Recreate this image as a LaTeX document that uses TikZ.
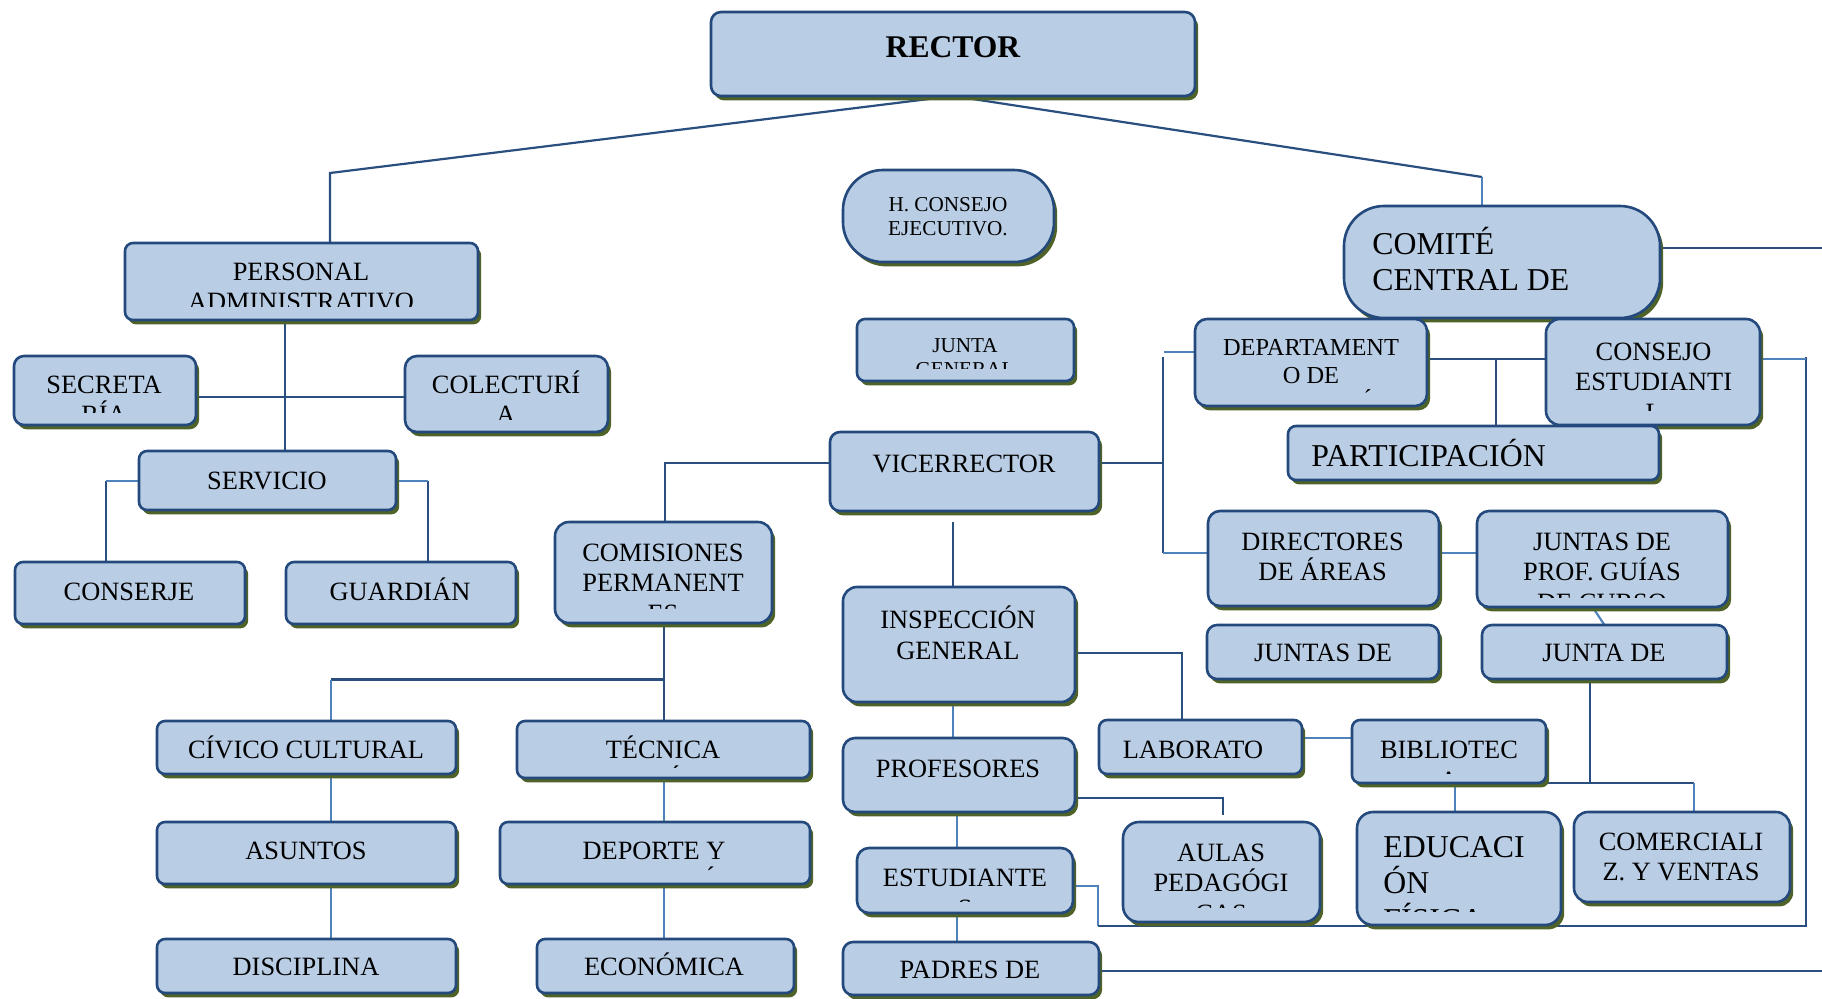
\documentclass[tikz,border=0pt]{standalone}
\usepackage{fontspec}
\setmainfont{Liberation Serif}
\usetikzlibrary{fit,shadows}
\definecolor{boxfill}{HTML}{B9CDE5}
\definecolor{bdr}{HTML}{24497C}
\definecolor{shad}{HTML}{4F6228}
\definecolor{lnk}{HTML}{2A4F7F}
\definecolor{lnl}{HTML}{4F81BD}
\pgfdeclarelayer{bg}
\pgfsetlayers{bg,main}
\newcommand\nrm{\fontsize{13.2}{15.3}\selectfont}
\newcommand\sml{\fontsize{10.6}{12.2}\selectfont}
\newcommand\mdm{\fontsize{12.2}{13.8}\selectfont}
\newcommand\bgg{\fontsize{15.9}{18.4}\selectfont}
% base anchor of a multi-line node = baseline of its last line
\newcommand\ctext[6][]{\begin{scope}\clip (0,0) rectangle (1822,#5);\node[txt,anchor=base,#1] (#2) at (#3,#4) {#6};\end{scope}}
\tikzset{
  box/.style={draw=bdr, line width=1.3pt, fill=boxfill, rounded corners=#1, inner sep=0pt, outer sep=0pt,
    drop shadow={shadow xshift=1.6pt, shadow yshift=-2.2pt, fill=shad, opacity=1}},
  box/.default=4pt,
  txt/.style={inner sep=0pt, align=center, text=black, font=\nrm},
  dk/.style={draw=lnk, line width=1.1pt},
  lt/.style={draw=lnl, line width=1.1pt},
}
\begin{document}
\begin{tikzpicture}[x=0.5pt,y=-0.5pt]
\useasboundingbox (0,0) rectangle (1822,998);
% ---------- coordinates for connectors ----------
\coordinate (cL) at (330,173);
\coordinate (cR) at (1482,177);
\coordinate (pv) at (285,0);
\coordinate (hy) at (0,397);
\coordinate (s1) at (106,481);
\coordinate (s2) at (428,481);
\coordinate (v1) at (665,463);
\coordinate (v2) at (664,679.5);
\coordinate (v3) at (331,679.5);
\coordinate (ix) at (953,0);
\coordinate (i1) at (1182,653);
\coordinate (p1) at (1223,797.7);
\coordinate (px) at (957,0);
\coordinate (e1) at (1098,886);
\coordinate (e2) at (1098,926);
\coordinate (e3) at (1806,926);
\coordinate (e4) at (1806,357);
\coordinate (e5) at (1806,359);
\coordinate (pr) at (1822,971);
\coordinate (cr) at (1822,248);
\coordinate (d1) at (1496,359);
\coordinate (l1) at (1164,352);
\coordinate (l2) at (1163,357);
\coordinate (l3) at (1163,553);
\coordinate (l4) at (1163,463);
\coordinate (j1) at (1590,783);
\coordinate (j2) at (1694,783);
\coordinate (bx) at (1455,0);
\coordinate (lb) at (0,738);

% ---------- boxes ----------
\node[box=5pt, fit={(711,12) (1195,96)}] (rector) {};
\node[box=20pt, fit={(843,170) (1054,262)}] (hce) {};
\node[box, fit={(857,319) (1074,381)}] (jg) {};
\node[box=5pt, fit={(830,432) (1099,511)}] (vice) {};
\node[box, fit={(125,243) (478,320)}] (pers) {};
\node[box=5pt, fit={(14,356) (196,425)}] (sec) {};
\node[box=6pt, fit={(405,356) (608,432)}] (col) {};
\node[box, fit={(139,451) (396,510)}] (serv) {};
\node[box, fit={(15,562) (245,624)}] (cons) {};
\node[box, fit={(286,562) (516,624)}] (guar) {};
\node[box=7pt, fit={(555,522) (772,623)}] (comi) {};
\node[box, fit={(157,721) (456,774)}] (civ) {};
\node[box, fit={(157,822) (456,884)}] (asu) {};
\node[box, fit={(157,939) (456,993)}] (dis) {};
\node[box, fit={(517,721) (810,778)}] (tec) {};
\node[box, fit={(500,822) (810,884)}] (dep) {};
\node[box, fit={(537,939) (794,993)}] (eco) {};
\node[box=7pt, fit={(843,587) (1075,702)}] (insp) {};
\node[box=6pt, fit={(843,738) (1075,812)}] (prof) {};
\node[box=6pt, fit={(857,848) (1073,913)}] (est) {};
\node[box=5pt, fit={(843,942) (1099,995)}] (pad) {};
\node[box, fit={(1099,720) (1302,774)}] (lab) {};
\node[box, fit={(1352,720) (1546,783)}] (bib) {};
\node[box=8pt, fit={(1123,822) (1320,922)}] (aul) {};
\node[box=8pt, fit={(1357,812) (1561,925)}] (edu) {};
\node[box=7pt, fit={(1574,812) (1790,902)}] (com) {};
\node[box=20pt, fit={(1344,206) (1660,318)}] (comite) {};
\node[box=6pt, fit={(1195,319) (1427,406)}] (dpto) {};
\node[box=7pt, fit={(1546,319) (1760,425)}] (cest) {};
\node[box, fit={(1288,426) (1659,480)}] (part) {};
\node[box=6pt, fit={(1208,511) (1439,606)}] (dir) {};
\node[box=6pt, fit={(1477,511) (1728,607)}] (jpg) {};
\node[box=5pt, fit={(1207,625) (1439,679)}] (jar) {};
\node[box=5pt, fit={(1482,625) (1727,679)}] (jcu) {};

% ---------- connectors (behind boxes) ----------
\begin{pgfonlayer}{bg}
\draw[dk] (rector.south) -- (cL) -- (cL |- pers.north);
\draw[dk] (rector.south) -- (cR);
\draw[lt] (cR) -- (cR |- comite.north);
\draw[dk] (pv |- pers.south) -- (pv |- serv.north);
\draw[dk] (sec.east |- hy) -- (col.west |- hy);
\draw[dk] (s1) -- (s1 |- cons.north);
\draw[lt] (serv.west |- s1) -- (s1);
\draw[dk] (s2) -- (s2 |- guar.north);
\draw[lt] (serv.east |- s2) -- (s2);
\draw[dk] (vice.west |- v1) -- (v1) -- (v1 |- comi.north);
\draw[dk] (v2 |- comi.south) -- (v2) -- (v2 |- tec.north);
\draw[dk] (v2) -- (v3);
\draw[lt] (v3) -- (v3 |- civ.north);
\draw[lt] (v3 |- civ.south) -- (v3 |- asu.north);
\draw[lt] (v3 |- asu.south) -- (v3 |- dis.north);
\draw[lt] (v2 |- tec.south) -- (v2 |- dep.north);
\draw[lt] (v2 |- dep.south) -- (v2 |- eco.north);
\draw[dk, shorten <=5.5pt] (ix |- vice.south) -- (ix |- insp.north);
\draw[lt] (ix |- insp.south) -- (ix |- prof.north);
\draw[dk] (insp.east |- i1) -- (i1) -- (i1 |- lab.north);
\draw[dk, shorten >=3.5pt] (prof.east |- p1) -- (p1) -- (p1 |- aul.north);
\draw[lt] (px |- prof.south) -- (px |- est.north);
\draw[lt] (px |- est.south) -- (px |- pad.north);
\draw[lt] (est.east |- e1) -- (e1) -- (e2);
\draw[dk] (e2) -- (e3) -- (e4);
\draw[lt] (e5) -- (cest.east |- e5);
\draw[dk] (pad.east |- pr) -- (pr);
\draw[dk] (comite.east |- cr) -- (cr);
\draw[dk] (dpto.east |- d1) -- (cest.west |- d1);
\draw[dk] (d1) -- (d1 |- part.north);
\draw[lt] (dpto.west |- l1) -- (l1);
\draw[dk] (l2) -- (l3);
\draw[dk] (vice.east |- l4) -- (l4);
\draw[lt] (l3) -- (dir.west |- l3);
\draw[lt] (dir.east |- l3) -- (jpg.west |- l3);
\draw[lt] ([xshift=-5pt]jpg.south) -- (jcu.north);
\draw[dk] (j1 |- jcu.south) -- (j1);
\draw[dk] (bib.south east) -- (j2);
\draw[lt] (j2) -- (j2 |- com.north);
\draw[lt] (bx |- bib.south) -- (bx |- edu.north);
\draw[lt] (lab.east |- lb) -- (bib.west |- lb);
\end{pgfonlayer}

% ---------- texts (y = baseline of the last line) ----------
\node[txt, anchor=base, font=\fontsize{15.8}{18}\selectfont\bfseries] (rector-t) at (953,57) {RECTOR};
\node[txt, anchor=base, font=\sml] (hce-t) at (948,235.4) {H. CONSEJO\\EJECUTIVO.};
\ctext[font=\sml]{jg-t}{965}{376.4}{368}{JUNTA\\GENERAL}
\node[txt, anchor=base] (vice-t) at (964,472) {VICERRECTOR};
\ctext{pers-t}{301}{310.6}{306}{PERSONAL\\ADMINISTRATIVO}
\ctext{sec-t}{104}{423.6}{412}{SECRETA\\RÍA}
\ctext{col-t}{506}{423.6}{419}{COLECTURÍ\\A}
\node[txt, anchor=base] (serv-t) at (267,489) {SERVICIO};
\node[txt, anchor=base] (cons-t) at (129,600) {CONSERJE};
\node[txt, anchor=base] (guar-t) at (400,600) {GUARDIÁN};
\ctext{comi-t}{663}{622.2}{608}{COMISIONES\\PERMANENT\\ES}
\node[txt, anchor=base] (civ-t) at (306,758) {CÍVICO CULTURAL};
\node[txt, anchor=base] (asu-t) at (306,859) {ASUNTOS};
\node[txt, anchor=base] (dis-t) at (306,975) {DISCIPLINA};
\ctext{tec-t}{663}{788.6}{767}{TÉCNICA\\PEDAGÓGICA}
\ctext{dep-t}{654}{889.6}{870}{DEPORTE Y\\RECREACIÓN}
\node[txt, anchor=base] (eco-t) at (664,975) {ECONÓMICA};
\node[txt, anchor=base] (insp-t) at (958,659.1) {INSPECCIÓN\\GENERAL};
\node[txt, anchor=base] (prof-t) at (958,777) {PROFESORES};
\ctext{est-t}{965}{917.1}{901.5}{ESTUDIANTE\\S}
\node[txt, anchor=base] (pad-t) at (970,978) {PADRES DE};
\node[txt, anchor=base] (lab-t) at (1193,758.5) {LABORATO};
\ctext{bib-t}{1449}{789.1}{773}{BIBLIOTEC\\A}
\ctext{aul-t}{1221}{922.2}{907}{AULAS\\PEDAGÓGI\\CAS}
\ctext[font=\bgg, align=left, anchor=base west]{edu-t}{1383}{930.6}{911}{EDUCACI\\ÓN\\FÍSICA}
\node[txt, anchor=base] (com-t) at (1681,880.6) {COMERCIALI\\Z. Y VENTAS};
\node[txt, anchor=base west, align=left, font=\bgg] (comite-t) at (1372,290.8) {COMITÉ\\CENTRAL DE};
\ctext[font=\mdm]{dpto-t}{1311}{410.9}{392}{DEPARTAMENT\\O DE\\ORIENTACIÓN}
\ctext{cest-t}{1653.6}{421.2}{410.7}{CONSEJO\\ESTUDIANTI\\L}
\node[txt, anchor=base west, font=\bgg] (part-t) at (1311,466.7) {PARTICIPACIÓN};
\node[txt, anchor=base] (dir-t) at (1322.6,580.9) {DIRECTORES\\DE ÁREAS};
\ctext{jpg-t}{1602}{611.2}{597}{JUNTAS DE\\PROF. GUÍAS\\DE CURSO}
\node[txt, anchor=base] (jar-t) at (1323,661.7) {JUNTAS DE};
\node[txt, anchor=base] (jcu-t) at (1604,661.7) {JUNTA DE};
\end{tikzpicture}
\end{document}
